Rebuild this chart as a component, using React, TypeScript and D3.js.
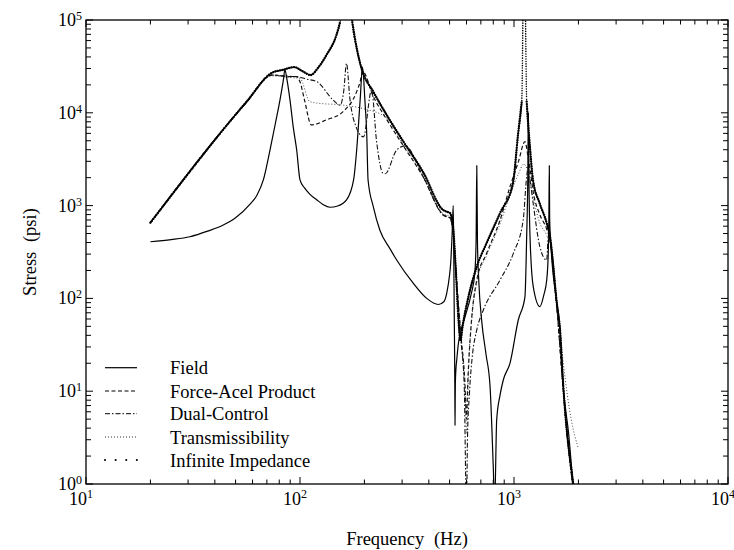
import React from "react";
import * as d3 from "d3";

// ---- data (frequency in Hz, stress in psi) ----
const fieldFreq = [20, 25, 30.6, 37, 43.8, 50, 58.3, 63, 67.4, 72.4, 77, 80.6, 83.6, 85, 87, 89.8, 93, 96.5, 100, 105, 111, 120, 128, 138, 150, 165, 178, 184, 191, 196, 201, 205, 208, 220, 236, 264, 283, 338, 391, 443, 470, 485, 500, 506, 514, 520, 523, 526, 529, 530, 532, 536, 540, 550, 565, 590, 630, 655, 665, 670, 675, 685, 706, 740, 773, 800, 812, 830, 860, 891, 958, 1047, 1125, 1146, 1160, 1167, 1174, 1188, 1230, 1322, 1380, 1422, 1445, 1455, 1462, 1468, 1480, 1585, 1641, 1700, 1800, 1892, 1950];
const fieldStress = [408, 430, 462, 530, 618, 740, 1030, 1300, 1890, 3970, 8000, 13700, 22500, 29000, 22500, 13700, 7000, 3970, 1890, 1550, 1330, 1150, 1030, 960, 990, 1150, 1890, 3970, 13700, 31000, 13700, 6000, 1890, 975, 546, 340, 259, 146, 100, 86, 92, 114, 180, 239, 500, 1000, 300, 60, 12, 4.3, 12, 18, 21.7, 33, 45, 63, 110, 180, 400, 2700, 400, 150, 58, 25, 11.2, 1.54, 0.6, 4.9, 9, 13.2, 20.1, 58.5, 104, 462, 2000, 10000, 2000, 462, 134, 81.5, 110, 158, 300, 700, 2700, 700, 460, 89, 45.7, 11.2, 3.5, 1.0, 0.7];

const forceFreq = [20, 56, 74, 83, 90, 96.6, 100, 105, 113, 133, 159, 184, 191, 196, 220, 254, 304, 376, 466, 502, 519, 540, 565, 590, 600, 608, 630, 670, 745, 861, 958, 1050, 1125, 1160, 1188, 1230, 1320, 1421, 1473, 1585, 1700, 1892, 1950];
const forceStress = [655, 12800, 25500, 25000, 24500, 24500, 21600, 13700, 7400, 8400, 10300, 16900, 21600, 28000, 15000, 8500, 4400, 2050, 800, 740, 520, 150, 40, 12, 5, 12, 50, 158, 306, 700, 1600, 3000, 4900, 3500, 2500, 1400, 800, 560, 420, 80, 10, 0.9, 0.6];

const dualFreq = [20, 56, 74, 83, 96.6, 108, 120, 143, 154, 160, 165, 171, 184, 191, 198, 216, 228, 244, 250, 283, 310, 376, 466, 502, 519, 540, 565, 585, 600, 606, 620, 640, 670, 719, 861, 993, 1104, 1146, 1165, 1185, 1229, 1321, 1421, 1447, 1500, 1585, 1700, 1892, 1950];
const dualStress = [655, 12800, 25500, 25000, 24500, 23000, 21600, 13700, 12100, 17000, 34000, 14300, 6800, 5800, 5500, 17600, 4900, 2240, 2200, 3970, 4400, 2050, 790, 730, 510, 140, 35, 12, 0.5, 3, 10, 25, 45.7, 75, 158, 306, 700, 2050, 2600, 2000, 1060, 360, 259, 462, 330, 82, 10, 0.9, 0.6];

const transFreq = [20, 56, 74, 90, 100, 111, 118, 159, 200, 254, 304, 376, 466, 502, 519, 540, 565, 590, 603, 612, 635, 670, 745, 861, 958, 1050, 1110, 1150, 1230, 1320, 1421, 1500, 1585, 1700, 1850, 1990];
const transStress = [655, 12800, 25000, 24000, 23500, 13200, 12800, 12100, 11000, 8800, 4500, 2100, 820, 760, 540, 150, 40, 10, 3.5, 15, 60, 150, 290, 640, 1300, 2200, 2800, 2500, 1200, 650, 480, 330, 100, 20, 5, 2.5];

const infFreq = [20, 56, 74, 83, 94, 103, 112, 122, 133, 148, 154, 164, 175, 184, 194, 220, 254, 304, 376, 466, 485, 502, 519, 535, 550, 562, 575, 610, 670, 745, 861, 989, 1044, 1087, 1116, 1146, 1188, 1227, 1320, 1421, 1473, 1585, 1641, 1700, 1892, 1950];
const infStress = [655, 13000, 27000, 29000, 31000, 28000, 25500, 31000, 42000, 69000, 96000, 3000000, 100000, 50000, 30000, 16900, 9500, 4900, 2300, 900, 860, 832, 593, 200, 60, 35, 50, 100, 220, 395, 832, 1750, 5800, 13200, 1000000, 13200, 4200, 1890, 1050, 650, 462, 89, 45.7, 11.2, 1.0, 0.6];

const seriesNames = ["Field", "Force-Acel Product", "Dual-Control", "Transmissibility", "Infinite Impedance"];
const xTickExps = [1, 2, 3, 4];
const yTickExps = [0, 1, 2, 3, 4, 5];
const xLabel = "Frequency (Hz)";
const yLabel = "Stress (psi)";

const FONT = "'Liberation Serif', 'Times New Roman', serif";

type P = [number, number];

export default function App() {
  const W = 734, H = 550;
  const L = 86, R = 728, T = 20, B = 484;
  const x = d3.scaleLog().domain([10, 1e4]).range([L, R]);
  const y = d3.scaleLog().domain([1, 1e5]).range([B, T]);

  const series = [
    { name: seriesNames[0], f: fieldFreq, s: fieldStress, w: 1.2, dash: "", cap: "butt", col: "#000" },
    { name: seriesNames[1], f: forceFreq, s: forceStress, w: 1.2, dash: "4 2.5", cap: "butt", col: "#111" },
    { name: seriesNames[2], f: dualFreq, s: dualStress, w: 1.1, dash: "5 2 1.5 2", cap: "butt", col: "#111" },
    { name: seriesNames[3], f: transFreq, s: transStress, w: 0.9, dash: "1 2", cap: "butt", col: "#333" },
  ];

  const pix = d3
    .line<P>()
    .x((d) => d[0])
    .y((d) => d[1])
    .curve(d3.curveMonotoneX);

  const toPix = (f: number[], s: number[]): P[] => f.map((v, i) => [x(v), y(s[i])] as P);

  // Infinite Impedance: drawn with point markers in the original; dense where the curve is
  // shallow (looks like a heavy line), sparse where it climbs steeply (looks dotted).
  const infPts = toPix(infFreq, infStress);
  const runs: P[][] = [];
  let cur: P[] = [];
  for (let i = 0; i < infPts.length - 1; i++) {
    const a = infPts[i], b = infPts[i + 1];
    const slope = Math.abs((b[1] - a[1]) / (b[0] - a[0]));
    if (slope <= 20) {
      if (cur.length === 0) cur.push(a);
      cur.push(b);
    } else {
      if (cur.length > 1) runs.push(cur);
      cur = [];
    }
  }
  if (cur.length > 1) runs.push(cur);

  const xTicks: { v: number; major: boolean }[] = [];
  for (let e = 1; e < 4; e++) for (let k = 1; k < 10; k++) xTicks.push({ v: k * 10 ** e, major: k === 1 });
  xTicks.push({ v: 1e4, major: true });
  const yTicks: { v: number; major: boolean }[] = [];
  for (let e = 0; e < 5; e++) for (let k = 1; k < 10; k++) yTicks.push({ v: k * 10 ** e, major: k === 1 });
  yTicks.push({ v: 1e5, major: true });

  const legendRows = [367.7, 391, 413.7, 437, 460];
  const legendDash = ["", "4 2.5", "5 2 1.5 2", "1 2", "0.1 10.5"];
  const legendW = [1.2, 1, 1, 0.8, 2];
  const legendCap = ["butt", "butt", "butt", "butt", "round"];

  return (
    <svg width={W} height={H} style={{ position: "absolute", left: 0, top: 0, background: "#fff" }} fontFamily={FONT}>
      <defs>
        <clipPath id="plotclip">
          <rect x={L} y={T} width={R - L} height={B - T} />
        </clipPath>
      </defs>
      <rect x={0} y={0} width={W} height={H} fill="#fff" />
      <g clipPath="url(#plotclip)">
        {series.map((sr) => (
          <path
            key={sr.name}
            d={pix(toPix(sr.f, sr.s)) || ""}
            fill="none"
            stroke={sr.col}
            strokeWidth={sr.w}
            strokeDasharray={sr.dash || undefined}
            strokeLinecap={sr.cap as any}
            strokeLinejoin="round"
          />
        ))}
        <path
          d={pix(infPts) || ""}
          fill="none"
          stroke="#000"
          strokeWidth={1.5}
          strokeDasharray="0.1 2.4"
          strokeLinecap="round"
        />
        {runs.map((r, i) => (
          <path
            key={"run" + i}
            d={pix(r) || ""}
            fill="none"
            stroke="#000"
            strokeWidth={2.3}
            strokeDasharray="0.1 2.3"
            strokeLinecap="round"
          />
        ))}
      </g>
      {/* frame */}
      <rect x={L} y={T} width={R - L} height={B - T} fill="none" stroke="#000" strokeWidth={1.3} />
      {/* ticks */}
      {xTicks.map((t, i) => {
        const px = x(t.v);
        const len = t.major ? 7 : 4.5;
        return (
          <g key={"xt" + i} stroke="#000" strokeWidth={1}>
            <line x1={px} x2={px} y1={B} y2={B - len} />
            <line x1={px} x2={px} y1={T} y2={T + len} />
          </g>
        );
      })}
      {yTicks.map((t, i) => {
        const py = y(t.v);
        const len = t.major ? 7 : 5;
        return (
          <g key={"yt" + i} stroke="#000" strokeWidth={1}>
            <line x1={L} x2={L + len} y1={py} y2={py} />
            <line x1={R} x2={R - len} y1={py} y2={py} />
          </g>
        );
      })}
      {/* tick labels */}
      {xTickExps.map((e) => (
        <text key={"xl" + e} x={x(10 ** e) - 5} y={505} textAnchor="middle" fontSize={18} fill="#000">
          10
          <tspan dy={-7} fontSize={12}>
            {e}
          </tspan>
        </text>
      ))}
      {yTickExps.map((e) => (
        <text key={"yl" + e} x={82} y={y(10 ** e) + 6} textAnchor="end" fontSize={18} fill="#000">
          10
          <tspan dy={-6} fontSize={12}>
            {e}
          </tspan>
        </text>
      ))}
      {/* axis titles */}
      <text x={(L + R) / 2} y={545} textAnchor="middle" fontSize={18.5} wordSpacing={5} fill="#000">
        {xLabel}
      </text>
      <text transform={`translate(36,${(T + B) / 2}) rotate(-90)`} textAnchor="middle" fontSize={18.5} wordSpacing={5} fill="#000">
        {yLabel}
      </text>
      {/* legend */}
      {seriesNames.map((n, i) => (
        <g key={"lg" + i}>
          <line
            x1={105}
            x2={137}
            y1={legendRows[i]}
            y2={legendRows[i]}
            stroke="#000"
            strokeWidth={legendW[i]}
            strokeDasharray={legendDash[i] || undefined}
            strokeLinecap={legendCap[i] as any}
          />
          <text x={170} y={legendRows[i] + 6.6} fontSize={18.5} fill="#000">
            {n}
          </text>
        </g>
      ))}
    </svg>
  );
}
